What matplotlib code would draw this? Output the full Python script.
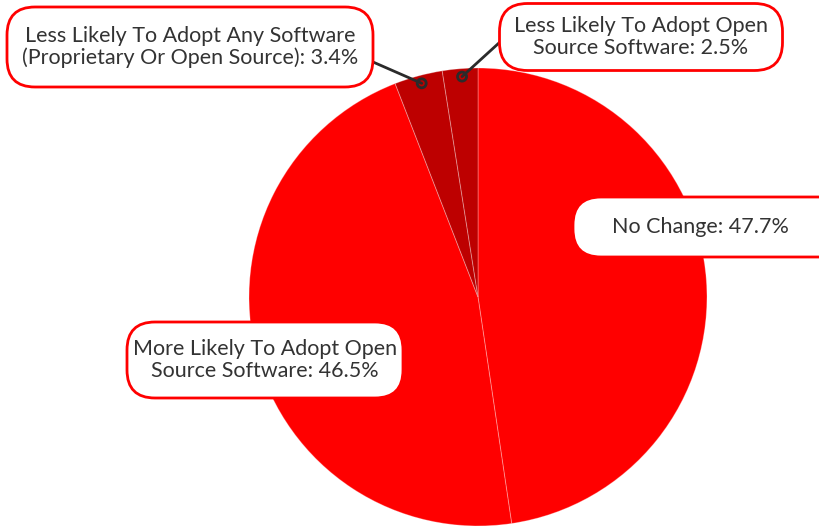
import matplotlib
matplotlib.use("Agg")
import numpy as np
import matplotlib.pyplot as plt
from matplotlib.patches import FancyBboxPatch, Circle

# 调查结果：对开源软件采用意愿的变化
labels = [
    "No Change",
    "More Likely To Adopt Open\nSource Software",
    "Less Likely To Adopt Any Software\n(Proprietary Or Open Source)",
    "Less Likely To Adopt Open\nSource Software",
]
shares = [47.7, 46.5, 3.4, 2.5]
colors = ["#ff0000", "#ff0000", "#bd0000", "#bd0000"]

W, H = 820, 527
fig = plt.figure(figsize=(W / 100, H / 100), dpi=100)
ax = fig.add_axes([0, 0, 1, 1])

cx, cy, R = 478, H - 297, 229

ax.pie(
    shares, colors=colors, startangle=90, counterclock=False,
    center=(cx, cy), radius=R, frame=True,
    wedgeprops=dict(edgecolor=(1, 1, 1, 0.3), linewidth=0.7),
)
ax.set_xlim(0, W)
ax.set_ylim(0, H)
ax.set_aspect("equal")
ax.axis("off")

# 标签框：(中心x, 中心y, 宽, 高)，像素坐标，y 从顶部量起
boxes = [
    (700, 227, 254, 60),
    (265, 360, 276, 76),
    (190, 47, 366, 80),
    (641, 37, 283, 67),
]
box_w_extra = [30, 0, 0, 0]  # No Change 的框超出右边界
box_anchor = [None, None, (373, 62), (500, 42)]

font = ["Lato", "DejaVu Sans"]
txt_color = "#333333"

cum = np.cumsum([0] + shares[:-1])
for i, (lab, val) in enumerate(zip(labels, shares)):
    bx, by, bw, bh = boxes[i]
    by = H - by
    if box_anchor[i] is not None:
        # 顺时针方向，角度从顶部起算
        mid = (cum[i] + val / 2) / 100 * 2 * np.pi
        px = cx + np.sin(mid) * R * 0.965
        py = cy + np.cos(mid) * R * 0.965
        ax_, ay_ = box_anchor[i]
        ax.plot([ax_, px], [H - ay_, py], color="#2b2b2b", lw=2,
                solid_capstyle="round", zorder=3)
        ax.add_patch(Circle((px, py), 4.5, fc="none", ec="#2b2b2b",
                            lw=2, zorder=4))
    box = FancyBboxPatch((bx - bw / 2, by - bh / 2), bw + box_w_extra[i], bh,
                         boxstyle="round,pad=0,rounding_size=28",
                         fc="white", ec="#ff0000", lw=2, zorder=5)
    ax.add_patch(box)
    ax.text(bx, by, f"{lab}: {val}%", ha="center", va="center",
            fontsize=15.5, color=txt_color, family=font,
            linespacing=1.1, zorder=6)

fig.savefig("out.png", dpi=100)
